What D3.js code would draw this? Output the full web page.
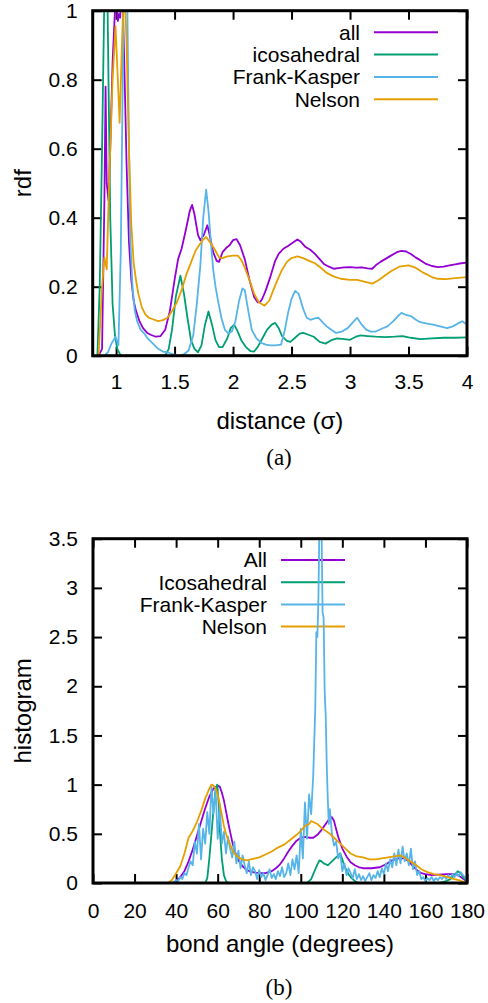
<!DOCTYPE html>
<html>
<head>
<meta charset="utf-8">
<script src="https://cdn.jsdelivr.net/npm/d3@7"></script>
<style>
body { margin: 0; background: #fff; }
</style>
</head>
<body>
<div id="body"></div>
<script>
// ---- panel (a): radial distribution functions ----
var rdfNames = ["all", "icosahedral", "Frank-Kasper", "Nelson"];
var rdfXTicks = [1, 1.5, 2, 2.5, 3, 3.5, 4];
var rdfYTicks = [0, 0.2, 0.4, 0.6, 0.8, 1];

var rdfAllX = [0.85,0.88,0.9,0.91,0.92,0.935,0.95,0.97,0.99,1.0,1.015,1.025,1.035,1.05,1.07,1.09,1.11,1.13,1.15,1.17,1.2,1.23,1.27,1.3,1.34,1.38,1.42,1.46,1.5,1.53,1.56,1.6,1.63,1.65,1.67,1.7,1.72,1.75,1.78,1.8,1.83,1.86,1.88,1.91,1.94,1.97,2.0,2.03,2.06,2.1,2.14,2.18,2.21,2.23,2.25,2.28,2.32,2.36,2.39,2.43,2.47,2.5,2.55,2.58,2.62,2.66,2.7,2.74,2.78,2.82,2.86,2.9,2.95,3.0,3.05,3.1,3.15,3.19,3.22,3.26,3.3,3.35,3.4,3.44,3.48,3.52,3.56,3.6,3.65,3.7,3.75,3.8,3.85,3.9,3.95,4.0];
var rdfAllY = [0,0.02,0.45,0.78,0.5,0.45,0.6,0.85,1.0,1.05,0.97,0.99,0.98,1.1,0.85,0.55,0.33,0.22,0.16,0.13,0.1,0.08,0.065,0.06,0.055,0.057,0.075,0.13,0.22,0.28,0.31,0.37,0.42,0.437,0.41,0.35,0.335,0.35,0.378,0.35,0.3,0.275,0.272,0.3,0.312,0.32,0.335,0.338,0.32,0.28,0.22,0.17,0.155,0.155,0.165,0.19,0.23,0.275,0.295,0.31,0.318,0.325,0.337,0.33,0.315,0.307,0.295,0.28,0.265,0.258,0.252,0.254,0.256,0.257,0.255,0.256,0.253,0.252,0.262,0.272,0.28,0.29,0.3,0.304,0.302,0.295,0.285,0.277,0.266,0.26,0.257,0.258,0.262,0.265,0.268,0.27];

var rdfIcoX = [0.84,0.86,0.88,0.9,0.92,0.935,0.95,0.97,0.99,1.01,1.04,1.42,1.45,1.48,1.51,1.55,1.58,1.61,1.64,1.67,1.7,1.73,1.76,1.79,1.82,1.85,1.88,1.91,1.95,1.98,2.01,2.04,2.07,2.11,2.15,2.18,2.21,2.25,2.29,2.33,2.36,2.39,2.42,2.46,2.49,2.53,2.57,2.6,2.65,2.69,2.74,2.79,2.84,2.89,2.95,3.0,3.05,3.09,3.15,3.22,3.3,3.38,3.45,3.52,3.6,3.7,3.8,3.9,4.0];
var rdfIcoY = [0,0.2,0.6,1.05,1.2,0.8,0.4,0.15,0.06,0.02,0,0,0.02,0.08,0.17,0.232,0.18,0.11,0.045,0.02,0.01,0.03,0.09,0.128,0.09,0.045,0.025,0.025,0.05,0.08,0.09,0.07,0.045,0.025,0.013,0.012,0.025,0.05,0.075,0.09,0.095,0.08,0.056,0.043,0.04,0.052,0.064,0.066,0.06,0.055,0.04,0.035,0.045,0.05,0.048,0.046,0.055,0.059,0.057,0.055,0.054,0.055,0.057,0.052,0.048,0.05,0.052,0.052,0.053];

var rdfFkX = [0.9,0.93,0.96,0.995,1.02,1.04,1.06,1.075,1.09,1.105,1.12,1.14,1.16,1.18,1.21,1.24,1.27,1.3,1.33,1.36,1.4,1.44,1.48,1.53,1.58,1.62,1.66,1.69,1.72,1.745,1.77,1.79,1.81,1.83,1.85,1.87,1.9,1.93,1.96,1.99,2.02,2.05,2.08,2.1,2.13,2.16,2.2,2.24,2.28,2.32,2.36,2.41,2.44,2.47,2.5,2.53,2.56,2.6,2.63,2.66,2.7,2.73,2.77,2.8,2.84,2.88,2.93,2.98,3.02,3.06,3.1,3.14,3.18,3.22,3.27,3.32,3.37,3.41,3.44,3.48,3.52,3.56,3.6,3.66,3.71,3.77,3.83,3.88,3.93,3.96,4.0];
var rdfFkY = [0,0.01,0.035,0.055,0.03,0.3,0.9,1.4,1.2,0.75,0.35,0.2,0.13,0.1,0.075,0.065,0.05,0.04,0.03,0.02,0.012,0.01,0.005,0,0.004,0.015,0.06,0.15,0.26,0.4,0.481,0.42,0.33,0.25,0.2,0.162,0.11,0.075,0.065,0.07,0.1,0.157,0.195,0.19,0.13,0.075,0.05,0.037,0.032,0.03,0.03,0.032,0.07,0.124,0.165,0.188,0.18,0.135,0.11,0.104,0.108,0.11,0.095,0.085,0.075,0.066,0.07,0.08,0.095,0.11,0.09,0.075,0.07,0.07,0.078,0.085,0.1,0.115,0.124,0.118,0.115,0.105,0.097,0.093,0.09,0.085,0.08,0.085,0.095,0.1,0.09];

var rdfNelX = [0.85,0.88,0.9,0.92,0.94,0.97,0.995,1.015,1.03,1.05,1.07,1.09,1.11,1.13,1.15,1.17,1.19,1.22,1.25,1.28,1.32,1.36,1.4,1.44,1.48,1.52,1.56,1.6,1.64,1.68,1.71,1.74,1.77,1.8,1.84,1.88,1.91,1.95,2.0,2.04,2.07,2.1,2.14,2.18,2.22,2.27,2.31,2.35,2.38,2.42,2.46,2.5,2.55,2.6,2.65,2.7,2.75,2.8,2.86,2.92,3.0,3.06,3.12,3.19,3.24,3.29,3.35,3.42,3.5,3.56,3.63,3.7,3.75,3.82,3.9,4.0];
var rdfNelY = [0,0.2,0.285,0.25,0.5,0.8,0.955,0.8,0.675,0.9,1.1,0.9,0.6,0.38,0.27,0.22,0.18,0.14,0.12,0.11,0.105,0.1,0.103,0.11,0.13,0.155,0.19,0.235,0.27,0.305,0.32,0.335,0.344,0.33,0.31,0.285,0.283,0.288,0.29,0.29,0.278,0.255,0.22,0.18,0.155,0.145,0.16,0.195,0.22,0.25,0.272,0.283,0.288,0.283,0.275,0.268,0.255,0.24,0.23,0.223,0.22,0.22,0.215,0.209,0.218,0.23,0.245,0.258,0.262,0.255,0.24,0.228,0.223,0.222,0.225,0.228];

// ---- panel (b): bond angle histograms ----
var histNames = ["All", "Icosahedral", "Frank-Kasper", "Nelson"];
var angleXTicks = [0, 20, 40, 60, 80, 100, 120, 140, 160, 180];
var histYTicks = [0, 0.5, 1, 1.5, 2, 2.5, 3, 3.5];

var histAllX = [38,40,42,44,46,48,50,52,54,56,58,60,61,62,63,64,65,66,67,68,69,70,72,74,76,78,80,83,86,88,90,92,94,96,98,100,102,104,106,108,110,112,114,115,116,117,118,120,122,124,126,128,130,134,138,141,144,147,150,152,154,156,158,160,163,166,170,173,175,177,179,180];
var histAllY = [0,0.02,0.06,0.12,0.22,0.34,0.48,0.62,0.76,0.88,0.96,0.99,0.98,0.92,0.84,0.73,0.62,0.52,0.42,0.34,0.28,0.23,0.17,0.13,0.115,0.105,0.1,0.1,0.12,0.15,0.19,0.25,0.32,0.38,0.43,0.46,0.47,0.46,0.46,0.49,0.54,0.6,0.66,0.67,0.63,0.55,0.47,0.35,0.27,0.21,0.18,0.16,0.15,0.15,0.16,0.19,0.23,0.25,0.25,0.22,0.17,0.13,0.1,0.09,0.08,0.085,0.09,0.09,0.085,0.06,0.03,0.01];

var histIcoX = [54,55,56,57,58,59,59.8,60.5,61,62,63,64,65,103,105,106,107,108,109,110,111,112,113,114,115,116,117,118,119,120,121,122,123,124,125,126,128,166,168,170,172,174,175.5,177,178.5,180];
var histIcoY = [0,0.05,0.25,0.5,0.75,0.95,1.0,0.8,0.55,0.25,0.08,0.02,0,0,0.04,0.09,0.14,0.19,0.23,0.22,0.2,0.19,0.18,0.2,0.22,0.24,0.26,0.28,0.3,0.24,0.17,0.13,0.09,0.06,0.04,0.02,0,0,0.01,0.02,0.04,0.08,0.12,0.1,0.05,0.02];

var histFkX = [38,39,40,41,42,43,44,45,46,47,48,49,50,51,52,53,54,55,56,57,58,59,60,61,62,63,64,65,66,67,68,69,70,71,72,73,74,75,76,77,78,79,80,81,82,83,84,85,86,87,88,89,90,91,92,93,94,95,96,97,98,99,100,101,102,103,104,105,106,107,107.5,108,108.5,109,109.5,110,110.5,111,111.5,112,112.5,113,113.5,114,115,116,117,118,119,120,121,122,123,124,125,126,127,128,129,130,131,132,133,134,135,136,137,138,139,140,141,142,143,144,145,146,147,148,149,150,151,152,153,154,155,156,157,158,159,160,161,162,163,164,165,166,167,168,169,170,171,172,173,174,175,176,177,178,179,180];
var histFkY = [0,0.01,0.03,0.02,0.06,0.04,0.1,0.08,0.16,0.22,0.18,0.42,0.3,0.6,0.24,0.55,0.4,0.72,0.5,0.98,0.7,0.95,0.45,0.8,0.4,0.52,0.3,0.47,0.35,0.26,0.42,0.2,0.33,0.15,0.28,0.18,0.1,0.22,0.08,0.16,0.12,0.04,0.13,0.06,0.1,0.03,0.08,0.14,0.05,0.09,0.04,0.12,0.07,0.16,0.06,0.1,0.2,0.08,0.24,0.14,0.28,0.1,0.55,0.25,0.82,0.45,0.9,0.7,1.1,1.8,2.55,2.5,2.9,3.7,3.8,3.6,2.75,2.7,1.95,1.7,1.2,0.85,0.6,0.75,0.5,0.38,0.42,0.25,0.3,0.12,0.2,0.08,0.15,0.1,0.05,0.14,0.04,0.09,0.03,0.07,0.02,0.06,0.1,0.03,0.08,0.05,0.12,0.06,0.15,0.09,0.2,0.12,0.24,0.16,0.3,0.18,0.34,0.2,0.37,0.22,0.3,0.18,0.35,0.14,0.22,0.08,0.12,0.04,0.06,0.02,0.05,0.03,0.06,0.02,0.05,0.03,0.06,0.04,0.07,0.04,0.08,0.05,0.09,0.06,0.1,0.07,0.11,0.08,0.06,0.02];

var histNelX = [36,38,40,42,44,46,48,50,52,54,56,57,58,59,60,61,62,63,64,65,66,67,68,70,72,74,76,78,80,83,86,89,92,95,98,100,102,104,105,106,108,110,112,114,116,118,120,122,124,127,130,133,136,139,142,145,148,150,152,155,158,161,164,167,170,173,176,178,180];
var histNelY = [0,0.03,0.1,0.17,0.3,0.46,0.53,0.62,0.73,0.86,0.96,1.0,0.99,0.96,0.9,0.8,0.69,0.58,0.5,0.44,0.39,0.34,0.3,0.26,0.24,0.23,0.24,0.25,0.26,0.29,0.32,0.36,0.39,0.44,0.49,0.53,0.58,0.6,0.63,0.62,0.6,0.56,0.53,0.5,0.46,0.42,0.38,0.34,0.3,0.27,0.26,0.24,0.24,0.25,0.26,0.27,0.28,0.26,0.23,0.19,0.14,0.11,0.09,0.08,0.065,0.045,0.03,0.015,0];

var lineColors = ["#9400d3", "#009e73", "#56b4e9", "#e69f00"];

var svg = d3.select("#body")
  .append("svg")
  .attr("width", 488)
  .attr("height", 1003)
  .style("font-family", "'Liberation Sans', Arial, Helvetica, sans-serif");

function drawPanel(p) {
  var x = d3.scaleLinear().domain(p.xDomain).range([p.left, p.right]);
  var y = d3.scaleLinear().domain(p.yDomain).range([p.bottom, p.top]);
  var g = svg.append("g");

  var clipId = "clip-" + p.id;
  g.append("clipPath")
    .attr("id", clipId)
    .append("rect")
    .attr("x", p.left)
    .attr("y", p.top)
    .attr("width", p.right - p.left)
    .attr("height", p.bottom - p.top);

  // ticks on all four sides, pointing inwards (gnuplot mirror style)
  var fmt = d3.format("~g");
  g.append("g")
    .attr("transform", "translate(0," + p.bottom + ")")
    .call(d3.axisBottom(x).tickValues(p.xTicks).tickSizeInner(-9).tickSizeOuter(0).tickPadding(p.xPad).tickFormat(fmt));
  g.append("g")
    .attr("transform", "translate(" + p.left + ",0)")
    .call(d3.axisLeft(y).tickValues(p.yTicks).tickSizeInner(-9).tickSizeOuter(0).tickPadding(15).tickFormat(fmt));
  g.append("g")
    .attr("transform", "translate(0," + p.top + ")")
    .call(d3.axisTop(x).tickValues(p.xTicks).tickSizeInner(-9).tickSizeOuter(0).tickFormat(""));
  g.append("g")
    .attr("transform", "translate(" + p.right + ",0)")
    .call(d3.axisRight(y).tickValues(p.yTicks).tickSizeInner(-9).tickSizeOuter(0).tickFormat(""));

  g.selectAll(".domain").remove();
  g.selectAll(".tick line").attr("stroke", "#000").attr("stroke-width", 2);
  g.selectAll(".tick text")
    .attr("fill", "#000")
    .style("font-family", "'Liberation Sans', Arial, sans-serif")
    .style("font-size", "21px");

  // legend
  var legend = g.append("g")
    .selectAll("g")
    .data(p.series)
    .enter()
    .append("g")
    .attr("transform", function(d, i) { return "translate(0," + (p.legendTop + i * p.legendStep) + ")"; });

  legend.append("text")
    .attr("x", p.legendText)
    .attr("dy", "0.35em")
    .attr("text-anchor", "end")
    .style("font-size", "21px")
    .text(function(d) { return d.name; });

  legend.append("line")
    .attr("x1", p.legendText + 14)
    .attr("x2", p.legendText + 78)
    .attr("stroke", function(d, i) { return lineColors[i]; })
    .attr("stroke-width", 2);

  // curves
  var line = d3.line()
    .x(function(d) { return x(d[0]); })
    .y(function(d) { return y(d[1]); });

  g.append("g")
    .attr("clip-path", "url(#" + clipId + ")")
    .selectAll("path")
    .data(p.series)
    .enter()
    .append("path")
    .attr("fill", "none")
    .attr("stroke", function(d, i) { return lineColors[i]; })
    .attr("stroke-width", 1.8)
    .attr("stroke-linejoin", "round")
    .attr("d", function(d) { return line(d3.zip(d.x, d.y)); });

  // border
  g.append("rect")
    .attr("x", p.left)
    .attr("y", p.top)
    .attr("width", p.right - p.left)
    .attr("height", p.bottom - p.top)
    .attr("fill", "none")
    .attr("stroke", "#000")
    .attr("stroke-width", 3);

  g.append("text")
    .attr("x", (p.left + p.right) / 2)
    .attr("y", p.xLabelY)
    .attr("text-anchor", "middle")
    .style("font-size", "24px")
    .text(p.xLabel);

  g.append("text")
    .attr("transform", "translate(31," + ((p.top + p.bottom) / 2) + ") rotate(-90)")
    .attr("text-anchor", "middle")
    .style("font-size", "24px")
    .text(p.yLabel);

  g.append("text")
    .attr("x", 279)
    .attr("y", p.captionY)
    .attr("text-anchor", "middle")
    .style("font-family", "'Liberation Serif', 'DejaVu Serif', serif")
    .style("font-size", "23px")
    .text(p.caption);
}

drawPanel({
  id: "a",
  left: 92.7, right: 467, top: 10.7, bottom: 355.7,
  xDomain: [0.8, 4], yDomain: [0, 1],
  xTicks: rdfXTicks, yTicks: rdfYTicks, xPad: 18,
  xLabel: "distance (\u03c3)", xLabelY: 429,
  yLabel: "rdf",
  caption: "(a)", captionY: 465,
  legendText: 360, legendTop: 32.3, legendStep: 22.3,
  series: [
    { name: rdfNames[0], x: rdfAllX, y: rdfAllY },
    { name: rdfNames[1], x: rdfIcoX, y: rdfIcoY },
    { name: rdfNames[2], x: rdfFkX, y: rdfFkY },
    { name: rdfNames[3], x: rdfNelX, y: rdfNelY }
  ]
});

drawPanel({
  id: "b",
  left: 93, right: 467, top: 538.7, bottom: 883,
  xDomain: [0, 180], yDomain: [0, 3.5],
  xTicks: angleXTicks, yTicks: histYTicks, xPad: 20,
  xLabel: "bond angle (degrees)", xLabelY: 952,
  yLabel: "histogram",
  caption: "(b)", captionY: 995,
  legendText: 267, legendTop: 560, legendStep: 22.2,
  series: [
    { name: histNames[0], x: histAllX, y: histAllY },
    { name: histNames[1], x: histIcoX, y: histIcoY },
    { name: histNames[2], x: histFkX, y: histFkY },
    { name: histNames[3], x: histNelX, y: histNelY }
  ]
});
</script>
</body>
</html>
